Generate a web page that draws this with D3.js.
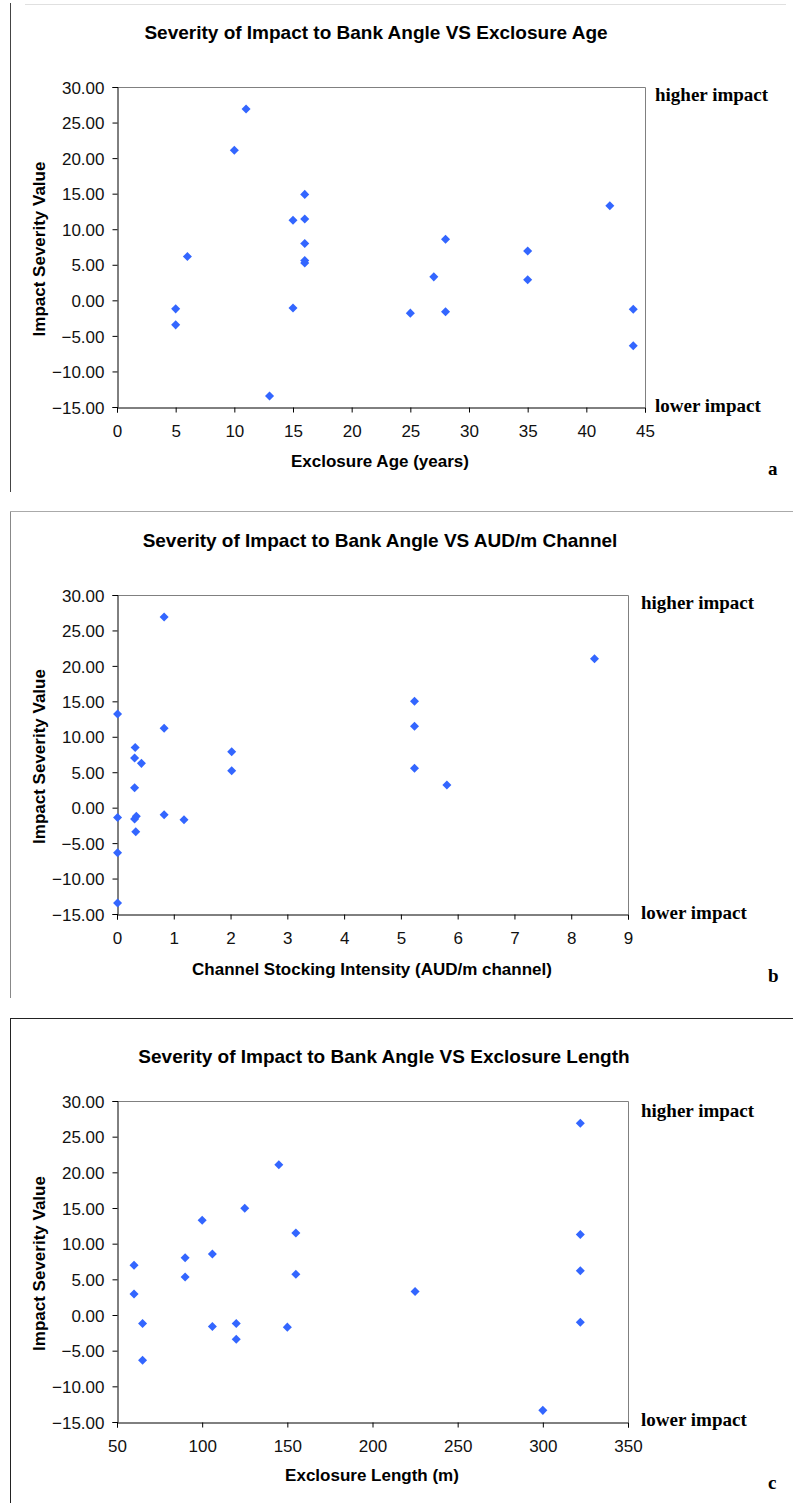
<!DOCTYPE html>
<html>
<head>
<meta charset="utf-8">
<script src="https://cdn.jsdelivr.net/npm/d3@7"></script>
<style>
  html, body { margin: 0; padding: 0; background: #fff; }
  svg { display: block; }
</style>
</head>
<body>
<svg id="chart" width="793" height="1503"></svg>
<script>
// ---------- DATA ----------
const yTicks = [-15, -10, -5, 0, 5, 10, 15, 20, 25, 30];

// Panel a: Exclosure Age (years)
const ageTicks = [0, 5, 10, 15, 20, 25, 30, 35, 40, 45];
const ageX = [5, 5, 6, 10, 11, 13, 15, 15, 16, 16, 16, 16, 16, 25, 27, 28, 28, 35, 35, 42, 44, 44];
const ageY = [-1.2, -3.45, 6.15, 21.1, 26.9, -13.45, 11.25, -1.08, 14.9, 11.45, 8.0, 5.6, 5.25, -1.8, 3.3, -1.6, 8.6, 6.94, 2.9, 13.3, -1.26, -6.4];

// Panel b: Channel Stocking Intensity (AUD/m channel)
const channelTicks = [0, 1, 2, 3, 4, 5, 6, 7, 8, 9];
const channelX = [0.01, 0.32, 0.83, 0.83, 8.41, 5.24, 5.24, 0.31, 0.43, 0.31, 0.01, 0.31, 0.34, 0.33, 0.01, 0.01, 0.83, 1.18, 2.02, 2.02, 5.24, 5.81];
const channelY = [13.2, 8.5, 26.9, 11.2, 21.0, 15.0, 11.5, 7.0, 6.25, 2.8, -1.4, -1.6, -1.2, -3.4, -6.35, -13.45, -1.0, -1.7, 7.9, 5.2, 5.55, 3.2];

// Panel c: Exclosure Length (m)
const lengthTicks = [50, 100, 150, 200, 250, 300, 350];
const lengthX = [100, 125, 145, 155, 322, 322, 60, 90, 106, 90, 155, 60, 65, 106, 120, 120, 150, 65, 225, 322, 322, 300];
const lengthY = [13.27, 14.96, 21.07, 11.5, 26.87, 11.3, 6.96, 8.04, 8.55, 5.33, 5.7, 2.94, -1.2, -1.6, -1.2, -3.4, -1.7, -6.35, 3.3, 6.2, -1.03, -13.37];

const titles = [
  "Severity of Impact to Bank Angle VS Exclosure Age",
  "Severity of Impact to Bank Angle VS AUD/m Channel",
  "Severity of Impact to Bank Angle VS Exclosure Length"
];
const xTitles = ["Exclosure Age (years)", "Channel Stocking Intensity (AUD/m channel)", "Exclosure Length (m)"];
const yTitle = "Impact Severity Value";
const panelLetters = ["a", "b", "c"];

// ---------- LAYOUT ----------
const svg = d3.select("#chart");
const SANS = "'Liberation Sans', Arial, sans-serif";
const SERIF = "'Liberation Serif', 'Times New Roman', serif";
const BLUE = "#3366ff";

// frames
// panel a
svg.append("line").attr("x1", 10.5).attr("x2", 10.5).attr("y1", 3).attr("y2", 492).attr("stroke", "#444").attr("stroke-width", 1);
svg.append("line").attr("x1", 25).attr("x2", 786).attr("y1", 4.5).attr("y2", 4.5).attr("stroke", "#e0e0e0").attr("stroke-width", 1);
// panel b
svg.append("line").attr("x1", 10.5).attr("x2", 10.5).attr("y1", 511.5).attr("y2", 998).attr("stroke", "#888").attr("stroke-width", 1);
svg.append("line").attr("x1", 10).attr("x2", 793).attr("y1", 511.5).attr("y2", 511.5).attr("stroke", "#aaa").attr("stroke-width", 1);
// panel c
svg.append("line").attr("x1", 10.5).attr("x2", 10.5).attr("y1", 1018.5).attr("y2", 1503).attr("stroke", "#222").attr("stroke-width", 1);
svg.append("line").attr("x1", 10).attr("x2", 793).attr("y1", 1018.5).attr("y2", 1018.5).attr("stroke", "#222").attr("stroke-width", 1);

const panels = [
  { xs: ageX, ys: ageY, ticks: ageTicks, dom: [0, 45], box: { l: 117, t: 87, r: 645, b: 407 },
    titleX: 376, titleY: 38.5, xTitleX: 380, xTitleY: 467, sideX: 655, hiY: 101, loY: 411.5, letterY: 475 },
  { xs: channelX, ys: channelY, ticks: channelTicks, dom: [0, 9], box: { l: 117, t: 595, r: 628, b: 914 },
    titleX: 380, titleY: 546.5, xTitleX: 372, xTitleY: 975, sideX: 641, hiY: 608.5, loY: 918.5, letterY: 982 },
  { xs: lengthX, ys: lengthY, ticks: lengthTicks, dom: [50, 350], box: { l: 117, t: 1101, r: 628, b: 1422 },
    titleX: 384, titleY: 1063, xTitleX: 372, xTitleY: 1480.5, sideX: 641, hiY: 1117, loY: 1425.5, letterY: 1489 }
];

panels.forEach((p, i) => {
  const g = svg.append("g");
  const B = p.box;
  const x = d3.scaleLinear().domain(p.dom).range([B.l, B.r]);
  const y = d3.scaleLinear().domain([-15, 30]).range([B.b, B.t]);

  // plot area border (top & right, gray)
  g.append("path")
    .attr("d", `M${B.l},${B.t + 0.5}H${B.r + 0.5}V${B.b}`)
    .attr("fill", "none").attr("stroke", "#808080").attr("stroke-width", 1);

  // y axis
  const yAxis = d3.axisLeft(y).tickValues(yTicks).tickSize(5).tickPadding(8).tickFormat(d3.format(".2f"));
  const ya = g.append("g").attr("transform", `translate(${B.l + 0.5},0)`).call(yAxis);
  ya.select(".domain").attr("stroke", "#000");
  ya.selectAll(".tick line").attr("stroke", "#000");
  ya.selectAll("text").attr("font-family", SANS).attr("font-size", 17).attr("fill", "#111").attr("dy", "0.36em");

  // x axis
  const xAxis = d3.axisBottom(x).tickValues(p.ticks).tickSize(5).tickPadding(12).tickFormat(d3.format("d"));
  const xa = g.append("g").attr("transform", `translate(0,${B.b + 0.5})`).call(xAxis);
  xa.select(".domain").attr("stroke", "#000");
  xa.selectAll(".tick line").attr("stroke", "#000");
  xa.selectAll("text").attr("font-family", SANS).attr("font-size", 17).attr("fill", "#111");

  // points
  const pts = p.xs.map((v, k) => ({ x: v, y: p.ys[k] }));
  const diamond = d3.symbol().type(d3.symbolDiamond2).size(52);
  g.selectAll("path.pt").data(pts).join("path")
    .attr("class", "pt")
    .attr("d", diamond)
    .attr("transform", d => `translate(${x(d.x)},${y(d.y)})`)
    .attr("fill", BLUE);

  // title
  g.append("text").attr("x", p.titleX).attr("y", p.titleY).attr("text-anchor", "middle")
    .attr("font-family", SANS).attr("font-weight", "bold").attr("font-size", 19).attr("fill", "#000")
    .text(titles[i]);

  // x title
  g.append("text").attr("x", p.xTitleX).attr("y", p.xTitleY).attr("text-anchor", "middle")
    .attr("font-family", SANS).attr("font-weight", "bold").attr("font-size", 17).attr("fill", "#000")
    .text(xTitles[i]);

  // y title
  const cy = (B.t + B.b) / 2 + 2;
  g.append("text").attr("transform", `translate(44.5,${cy}) rotate(-90)`).attr("text-anchor", "middle")
    .attr("font-family", SANS).attr("font-weight", "bold").attr("font-size", 17).attr("fill", "#000")
    .text(yTitle);

  // side labels
  g.append("text").attr("x", p.sideX).attr("y", p.hiY)
    .attr("font-family", SERIF).attr("font-weight", "bold").attr("font-size", 19).attr("fill", "#000")
    .text("higher impact");
  g.append("text").attr("x", p.sideX).attr("y", p.loY)
    .attr("font-family", SERIF).attr("font-weight", "bold").attr("font-size", 19).attr("fill", "#000")
    .text("lower impact");
  g.append("text").attr("x", 768).attr("y", p.letterY)
    .attr("font-family", SERIF).attr("font-weight", "bold").attr("font-size", 19).attr("fill", "#000")
    .text(panelLetters[i]);
});
</script>
</body>
</html>
